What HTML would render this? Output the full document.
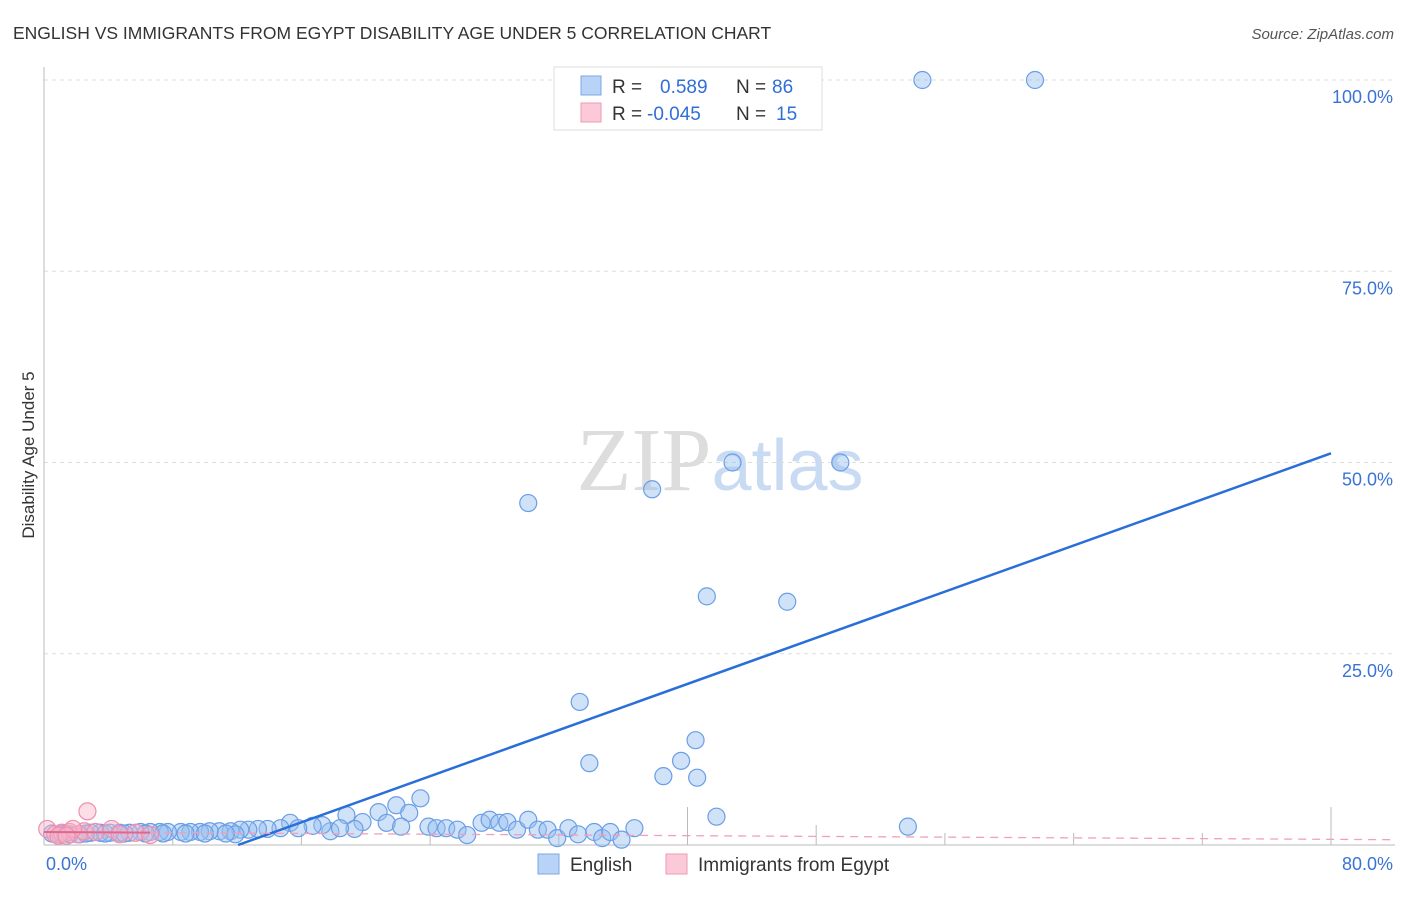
<!DOCTYPE html>
<html><head><meta charset="utf-8"><style>
body{margin:0;background:#fff;font-family:"Liberation Sans",sans-serif}
</style></head><body>
<svg id="c" width="1406" height="892" xmlns="http://www.w3.org/2000/svg" font-family="Liberation Sans, sans-serif">
<text x="13" y="39" font-size="17.5" fill="#333">ENGLISH VS IMMIGRANTS FROM EGYPT DISABILITY AGE UNDER 5 CORRELATION CHART</text>
<text x="1394" y="39" font-size="15" fill="#555" text-anchor="end" font-style="italic">Source: ZipAtlas.com</text>
<text x="720" y="490" font-size="90" text-anchor="middle" fill="#ddd" font-family="Liberation Serif, serif">ZIP<tspan fill="#c9daf3" font-family="Liberation Sans, sans-serif" font-size="72">atlas</tspan></text>
<text transform="translate(34,455) rotate(-90)" font-size="17" fill="#333" text-anchor="middle">Disability Age Under 5</text>
<g id="grid"></g><g id="pts"></g><g id="lines"></g>
<g>
<rect x="554" y="67" width="268" height="63" fill="#fff" stroke="#ddd"/>
<rect x="581" y="76" width="20" height="19" fill="#b8d3f5" stroke="#7aa7e6"/>
<rect x="581" y="103" width="20" height="19" fill="#fcc9d8" stroke="#ee9ab4"/>
<text x="612" y="93" font-size="19" fill="#333">R = <tspan x="660" fill="#2f6fd6">0.589</tspan><tspan x="736" fill="#333">N = </tspan><tspan x="772" fill="#2f6fd6">86</tspan></text>
<text x="612" y="120" font-size="19" fill="#333">R = <tspan x="647" fill="#2f6fd6">-0.045</tspan><tspan x="736" fill="#333">N = </tspan><tspan x="776" fill="#2f6fd6">15</tspan></text>
</g>
<g>
<rect x="538" y="854" width="21" height="20" fill="#b8d3f5" stroke="#7aa7e6"/>
<text x="570" y="871" font-size="19" fill="#333">English</text>
<rect x="666" y="854" width="21" height="20" fill="#fcc9d8" stroke="#ee9ab4"/>
<text x="698" y="871" font-size="19" fill="#333">Immigrants from Egypt</text>
</g>
</svg>
<script>
const yTicks=[25,50,75,100];
const yTickLabels=["25.0%","50.0%","75.0%","100.0%"];
const xTicks=[0,8,16,24,32,40,48,56,64,72,80];
const engX=[54.6,61.6,42.8,49.5,37.8,30.1,41.2,46.2,33.3,40.5,33.9,39.6,38.5,40.6,41.8,53.7,23.4,21.9,22.7,20.8,18.8,19.8,21.3,22.2,19.3,17.8,18.4,17.3,16.7,15.3,15.8,14.7,13.9,13.3,12.7,12.2,11.6,10.9,10.3,9.7,9.1,8.5,7.7,7.2,6.6,6.0,5.3,4.7,4.1,3.5,2.9,2.2,1.6,1.0,11.9,23.9,24.4,25.0,25.7,26.3,27.2,27.7,28.3,28.8,29.4,30.1,30.7,31.3,31.9,32.6,33.2,34.2,34.7,35.2,35.9,36.7,0.5,1.3,2.6,3.8,5.0,6.3,7.4,8.8,10.0,11.3];
const engY=[100,100,50,50,46.5,44.7,32.5,31.8,18.7,13.7,10.7,11.0,9.0,8.8,3.7,2.4,6.1,5.2,4.2,4.3,3.9,3.0,2.9,2.4,2.1,1.8,2.2,2.6,2.5,2.9,2.2,2.2,2.1,2.1,2.0,2.0,1.8,1.8,1.8,1.7,1.7,1.7,1.7,1.7,1.7,1.7,1.6,1.6,1.6,1.6,1.6,1.4,1.4,1.4,1.4,2.4,2.2,2.2,2.0,1.3,2.9,3.3,2.9,3.0,2.0,3.3,2.0,2.0,0.9,2.2,1.4,1.7,0.9,1.7,0.7,2.2,1.5,1.5,1.5,1.5,1.5,1.5,1.5,1.5,1.5,1.5];
const egX=[2.7,0.2,0.7,1.1,1.6,2.1,2.5,1.8,3.2,4.2,4.7,5.7,6.6,0.9,1.4];
const egY=[4.4,2.1,1.4,1.6,1.7,1.4,1.8,2.1,1.7,2.1,1.4,1.6,1.3,1.2,1.2];
const engTrend=[0.7536,-9.09];
const egTrend=[-0.012,1.7];
const X=v=>44+v*1287/80, Y=v=>845-v*7.65;
const ns="http://www.w3.org/2000/svg";
function mk(t,a,p){const e=document.createElementNS(ns,t);for(const k in a)e.setAttribute(k,a[k]);p.appendChild(e);return e;}
const g=document.getElementById('grid');
yTicks.forEach((t,i)=>{
 const l=mk('line',{x1:44,x2:1395,y1:Y(t),y2:Y(t),stroke:'#ddd','stroke-dasharray':'4,4'},g);
 
 
 const tx=mk('text',{x:1393,y:Y(t)+23,'font-size':18,fill:'#3a73d6','text-anchor':'end'},g);tx.textContent=yTickLabels[i];
 
 
});
const ax=mk('line',{x1:44,x2:44,y1:67,y2:845,stroke:'#bbb'},g);


const bx=mk('line',{x1:44,x2:1395,y1:845,y2:845,stroke:'#bbb'},g);


const th=[0,10,12,12,12,38,20,12,12,12,38];
xTicks.forEach((t,i)=>{if(i==0)return;const l=mk('line',{x1:X(t),x2:X(t),y1:845,y2:845-th[i],stroke:'#bbb'},g);
 
 });
const x0=mk('text',{x:46,y:870,'font-size':18,fill:'#3a73d6'},g);x0.textContent='0.0%';


const x1=mk('text',{x:1393,y:870,'font-size':18,fill:'#3a73d6','text-anchor':'end'},g);x1.textContent='80.0%';


const p=document.getElementById('pts');
engX.forEach((v,i)=>{const c=mk('circle',{cx:X(v),cy:Y(engY[i]),r:8.5,fill:'rgba(150,190,240,0.45)',stroke:'#6a9ee6','stroke-width':1.2},p);
 
 });
egX.forEach((v,i)=>{const c=mk('circle',{cx:X(v),cy:Y(egY[i]),r:8.5,fill:'rgba(250,180,200,0.45)',stroke:'#ee8fae','stroke-width':1.2},p);
 
 });
const L=document.getElementById('lines');
const xs=-engTrend[1]/engTrend[0];
const bl=mk('line',{x1:X(xs),y1:Y(0),x2:X(80),y2:Y(engTrend[0]*80+engTrend[1]),stroke:'#2a6fd8','stroke-width':2.5},L);


const pl=mk('line',{x1:X(0),y1:Y(egTrend[1]),x2:X(6.6),y2:Y(egTrend[0]*6.6+egTrend[1]),stroke:'#e0668f','stroke-width':2},L);


const pd=mk('line',{x1:X(6.6),y1:Y(egTrend[0]*6.6+egTrend[1]),x2:X(84),y2:Y(egTrend[0]*84+egTrend[1]),stroke:'#f0a0b8','stroke-width':1.3,'stroke-dasharray':'8,6'},L);


</script>
</body></html>
